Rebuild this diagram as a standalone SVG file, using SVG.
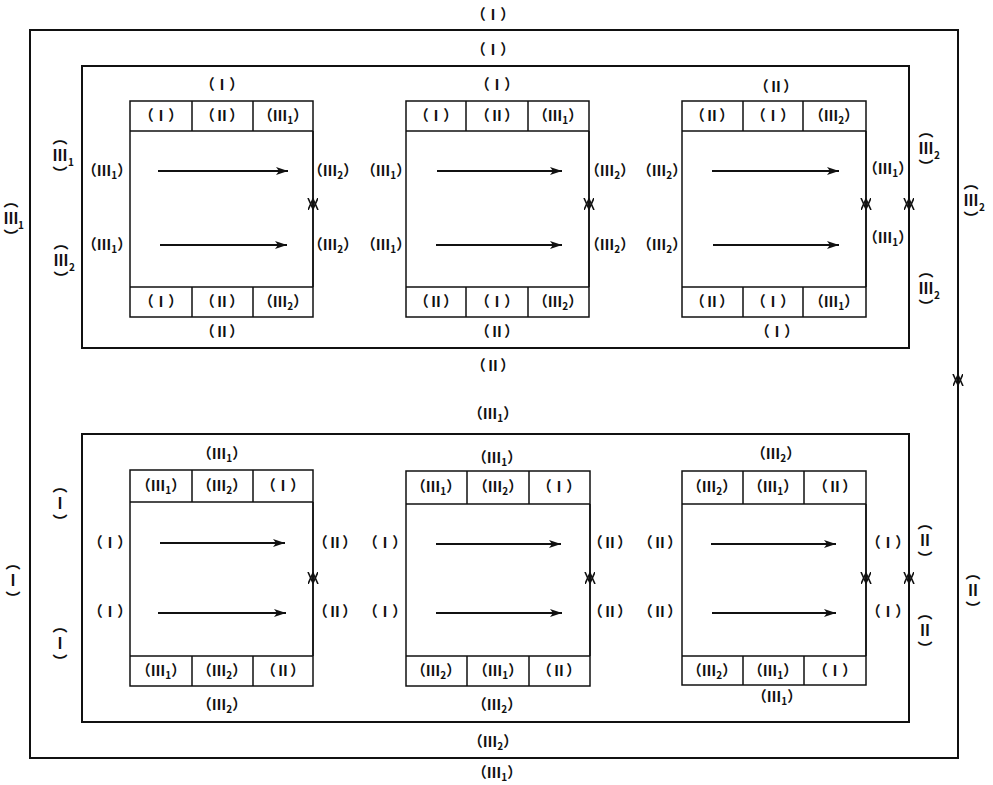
<svg xmlns="http://www.w3.org/2000/svg" width="993" height="785" viewBox="0 0 993 785">
<style>
.f{fill:none;stroke:#111;stroke-width:2}
.b{fill:none;stroke:#111;stroke-width:1.5}
.t{font-family:"Noto Sans CJK SC","Noto Sans CJK JP",sans-serif;font-size:14.5px;font-weight:bold;fill:#111;text-anchor:middle}
.sb{font-size:10px}
.vt{font-family:"Noto Sans CJK SC","Noto Sans CJK JP",sans-serif;font-size:15px;font-weight:bold;fill:#111;text-anchor:middle;writing-mode:vertical-rl;letter-spacing:3px}
.vs{font-family:"Noto Sans CJK SC","Noto Sans CJK JP",sans-serif;font-size:10px;font-weight:bold;fill:#111}
.ar{fill:none;stroke:#111;stroke-width:1.8}
.cv{fill:none;stroke:#111;stroke-width:1.5}
</style>
<defs>
<marker id="ah" markerUnits="userSpaceOnUse" markerWidth="13" markerHeight="9" refX="12" refY="4" orient="auto">
<path d="M0,0 L12,4 L0,8 L3,4 z" fill="#111"/>
</marker>
<marker id="v" markerUnits="userSpaceOnUse" markerWidth="12" markerHeight="12" refX="11" refY="5" orient="auto">
<path d="M0,0 L11,5 L0,10" fill="none" stroke="#111" stroke-width="1.6"/>
</marker>
</defs>

<g id="outer">
<rect class="f" x="30" y="30" width="928" height="728"/>
<text class="t" x="493" y="20">（Ⅰ）</text>
<text class="t" x="497" y="778">（Ⅲ<tspan class="sb" dy="3">1</tspan><tspan dy="-3">）</tspan></text>
<g id="lbl-outer-left">
<text class="vt" x="11" y="220">（Ⅲ）</text>
<text class="vs" x="18" y="229">1</text>
<text class="vt" x="13" y="582">（Ⅰ）</text>
</g>
<g id="lbl-outer-right">
<text class="vt" x="971" y="202">（Ⅲ）</text>
<text class="vs" x="979" y="211">2</text>
<text class="vt" x="973" y="592">（Ⅱ）</text>
</g>
</g>

<g id="upper-frame">
<rect class="f" x="82" y="66" width="827" height="282"/>
<text class="t" x="493" y="55">（Ⅰ）</text>
<text class="t" x="493" y="371">（Ⅱ）</text>
<text class="vt" x="60" y="157">（Ⅲ）</text>
<text class="vs" x="68" y="166">1</text>
<text class="vt" x="61" y="262">（Ⅲ）</text>
<text class="vs" x="69" y="271">2</text>
<text class="vt" x="926" y="150">（Ⅲ）</text>
<text class="vs" x="934" y="159">2</text>
<text class="vt" x="926" y="290">（Ⅲ）</text>
<text class="vs" x="934" y="299">2</text>
</g>

<g id="lower-frame">
<rect class="f" x="82" y="434" width="827" height="288"/>
<text class="t" x="493" y="419">（Ⅲ<tspan class="sb" dy="3">1</tspan><tspan dy="-3">）</tspan></text>
<text class="t" x="493" y="747">（Ⅲ<tspan class="sb" dy="3">2</tspan><tspan dy="-3">）</tspan></text>
<text class="vt" x="60" y="505">（Ⅰ）</text>
<text class="vt" x="60" y="645">（Ⅰ）</text>
<text class="vt" x="925" y="542">（Ⅱ）</text>
<text class="vt" x="925" y="632">（Ⅱ）</text>
</g>

<g id="box-tl">
<rect class="b" x="130" y="101" width="183" height="216"/>
<path class="b" d="M130,131 H313 M130,287 H313 M192,101 V131 M253,101 V131 M192,287 V317 M253,287 V317"/>
<text class="t" x="161" y="121">（Ⅰ）</text>
<text class="t" x="222" y="121">（Ⅱ）</text>
<text class="t" x="283" y="121">（Ⅲ<tspan class="sb" dy="3">1</tspan><tspan dy="-3">）</tspan></text>
<text class="t" x="161" y="307">（Ⅰ）</text>
<text class="t" x="222" y="307">（Ⅱ）</text>
<text class="t" x="283" y="307">（Ⅲ<tspan class="sb" dy="3">2</tspan><tspan dy="-3">）</tspan></text>
<text class="t" x="222" y="90">（Ⅰ）</text>
<text class="t" x="222" y="337">（Ⅱ）</text>
<text class="t" x="107" y="176">（Ⅲ<tspan class="sb" dy="3">1</tspan><tspan dy="-3">）</tspan></text>
<text class="t" x="107" y="250">（Ⅲ<tspan class="sb" dy="3">1</tspan><tspan dy="-3">）</tspan></text>
<text class="t" x="333" y="176">（Ⅲ<tspan class="sb" dy="3">2</tspan><tspan dy="-3">）</tspan></text>
<text class="t" x="333" y="250">（Ⅲ<tspan class="sb" dy="3">2</tspan><tspan dy="-3">）</tspan></text>
</g>

<g id="box-tm">
<rect class="b" x="406" y="101" width="183" height="216"/>
<path class="b" d="M406,131 H589 M406,287 H589 M466,101 V131 M528,101 V131 M466,287 V317 M528,287 V317"/>
<text class="t" x="436" y="121">（Ⅰ）</text>
<text class="t" x="497" y="121">（Ⅱ）</text>
<text class="t" x="558" y="121">（Ⅲ<tspan class="sb" dy="3">1</tspan><tspan dy="-3">）</tspan></text>
<text class="t" x="436" y="307">（Ⅱ）</text>
<text class="t" x="497" y="307">（Ⅰ）</text>
<text class="t" x="558" y="307">（Ⅲ<tspan class="sb" dy="3">2</tspan><tspan dy="-3">）</tspan></text>
<text class="t" x="497" y="90">（Ⅰ）</text>
<text class="t" x="497" y="337">（Ⅱ）</text>
<text class="t" x="386" y="176">（Ⅲ<tspan class="sb" dy="3">1</tspan><tspan dy="-3">）</tspan></text>
<text class="t" x="386" y="250">（Ⅲ<tspan class="sb" dy="3">1</tspan><tspan dy="-3">）</tspan></text>
<text class="t" x="610" y="176">（Ⅲ<tspan class="sb" dy="3">2</tspan><tspan dy="-3">）</tspan></text>
<text class="t" x="610" y="250">（Ⅲ<tspan class="sb" dy="3">2</tspan><tspan dy="-3">）</tspan></text>
</g>

<g id="box-tr">
<rect class="b" x="682" y="101" width="184" height="216"/>
<path class="b" d="M682,131 H866 M682,287 H866 M743,101 V131 M803,101 V131 M743,287 V317 M803,287 V317"/>
<text class="t" x="712" y="121">（Ⅱ）</text>
<text class="t" x="773" y="121">（Ⅰ）</text>
<text class="t" x="834" y="121">（Ⅲ<tspan class="sb" dy="3">2</tspan><tspan dy="-3">）</tspan></text>
<text class="t" x="712" y="307">（Ⅱ）</text>
<text class="t" x="773" y="307">（Ⅰ）</text>
<text class="t" x="834" y="307">（Ⅲ<tspan class="sb" dy="3">1</tspan><tspan dy="-3">）</tspan></text>
<text class="t" x="776" y="92">（Ⅱ）</text>
<text class="t" x="777" y="337">（Ⅰ）</text>
<text class="t" x="662" y="176">（Ⅲ<tspan class="sb" dy="3">2</tspan><tspan dy="-3">）</tspan></text>
<text class="t" x="662" y="250">（Ⅲ<tspan class="sb" dy="3">2</tspan><tspan dy="-3">）</tspan></text>
<text class="t" x="888" y="174">（Ⅲ<tspan class="sb" dy="3">1</tspan><tspan dy="-3">）</tspan></text>
<text class="t" x="888" y="243">（Ⅲ<tspan class="sb" dy="3">1</tspan><tspan dy="-3">）</tspan></text>
</g>

<g id="box-bl">
<rect class="b" x="130" y="470" width="183" height="216"/>
<path class="b" d="M130,502 H313 M130,656 H313 M192,470 V502 M253,470 V502 M192,656 V686 M253,656 V686"/>
<text class="t" x="161" y="491">（Ⅲ<tspan class="sb" dy="3">1</tspan><tspan dy="-3">）</tspan></text>
<text class="t" x="222" y="491">（Ⅲ<tspan class="sb" dy="3">2</tspan><tspan dy="-3">）</tspan></text>
<text class="t" x="283" y="491">（Ⅰ）</text>
<text class="t" x="161" y="676">（Ⅲ<tspan class="sb" dy="3">1</tspan><tspan dy="-3">）</tspan></text>
<text class="t" x="222" y="676">（Ⅲ<tspan class="sb" dy="3">2</tspan><tspan dy="-3">）</tspan></text>
<text class="t" x="283" y="676">（Ⅱ）</text>
<text class="t" x="222" y="459">（Ⅲ<tspan class="sb" dy="3">1</tspan><tspan dy="-3">）</tspan></text>
<text class="t" x="222" y="710">（Ⅲ<tspan class="sb" dy="3">2</tspan><tspan dy="-3">）</tspan></text>
<text class="t" x="110" y="548">（Ⅰ）</text>
<text class="t" x="110" y="617">（Ⅰ）</text>
<text class="t" x="335" y="548">（Ⅱ）</text>
<text class="t" x="335" y="617">（Ⅱ）</text>
</g>

<g id="box-bm">
<rect class="b" x="406" y="471" width="184" height="215"/>
<path class="b" d="M406,504 H590 M406,656 H590 M467,471 V504 M529,471 V504 M467,656 V686 M529,656 V686"/>
<text class="t" x="436" y="492">（Ⅲ<tspan class="sb" dy="3">1</tspan><tspan dy="-3">）</tspan></text>
<text class="t" x="498" y="492">（Ⅲ<tspan class="sb" dy="3">2</tspan><tspan dy="-3">）</tspan></text>
<text class="t" x="559" y="492">（Ⅰ）</text>
<text class="t" x="436" y="676">（Ⅲ<tspan class="sb" dy="3">2</tspan><tspan dy="-3">）</tspan></text>
<text class="t" x="498" y="676">（Ⅲ<tspan class="sb" dy="3">1</tspan><tspan dy="-3">）</tspan></text>
<text class="t" x="559" y="676">（Ⅱ）</text>
<text class="t" x="497" y="463">（Ⅲ<tspan class="sb" dy="3">1</tspan><tspan dy="-3">）</tspan></text>
<text class="t" x="497" y="710">（Ⅲ<tspan class="sb" dy="3">2</tspan><tspan dy="-3">）</tspan></text>
<text class="t" x="385" y="548">（Ⅰ）</text>
<text class="t" x="385" y="617">（Ⅰ）</text>
<text class="t" x="610" y="548">（Ⅱ）</text>
<text class="t" x="610" y="617">（Ⅱ）</text>
</g>

<g id="box-br">
<rect class="b" x="682" y="471" width="184" height="214"/>
<path class="b" d="M682,504 H866 M682,656 H866 M743,471 V504 M804,471 V504 M743,656 V685 M804,656 V685"/>
<text class="t" x="712" y="492">（Ⅲ<tspan class="sb" dy="3">2</tspan><tspan dy="-3">）</tspan></text>
<text class="t" x="773" y="492">（Ⅲ<tspan class="sb" dy="3">1</tspan><tspan dy="-3">）</tspan></text>
<text class="t" x="835" y="492">（Ⅱ）</text>
<text class="t" x="712" y="676">（Ⅲ<tspan class="sb" dy="3">2</tspan><tspan dy="-3">）</tspan></text>
<text class="t" x="773" y="676">（Ⅲ<tspan class="sb" dy="3">1</tspan><tspan dy="-3">）</tspan></text>
<text class="t" x="835" y="676">（Ⅰ）</text>
<text class="t" x="776" y="459">（Ⅲ<tspan class="sb" dy="3">2</tspan><tspan dy="-3">）</tspan></text>
<text class="t" x="777" y="702">（Ⅲ<tspan class="sb" dy="3">1</tspan><tspan dy="-3">）</tspan></text>
<text class="t" x="660" y="548">（Ⅱ）</text>
<text class="t" x="660" y="617">（Ⅱ）</text>
<text class="t" x="888" y="548">（Ⅰ）</text>
<text class="t" x="888" y="617">（Ⅰ）</text>
</g>

<g id="connectors">
<path class="ar" marker-end="url(#ah)" d="M158,171 H288"/>
<path class="ar" marker-end="url(#ah)" d="M160,245 H287"/>
<path class="ar" marker-end="url(#ah)" d="M437,171 H562"/>
<path class="ar" marker-end="url(#ah)" d="M436,245 H562"/>
<path class="ar" marker-end="url(#ah)" d="M712,171 H839"/>
<path class="ar" marker-end="url(#ah)" d="M713,245 H839"/>
<path class="ar" marker-end="url(#ah)" d="M160,543 H285"/>
<path class="ar" marker-end="url(#ah)" d="M158,613 H286"/>
<path class="ar" marker-end="url(#ah)" d="M436,544 H561"/>
<path class="ar" marker-end="url(#ah)" d="M436,613 H562"/>
<path class="ar" marker-end="url(#ah)" d="M711,544 H836"/>
<path class="ar" marker-end="url(#ah)" d="M712,613 H836"/>

<path class="cv" marker-end="url(#v)" d="M313,131 V209"/>
<path class="cv" marker-end="url(#v)" d="M313,287 V199"/>
<path class="cv" marker-end="url(#v)" d="M589,131 V209"/>
<path class="cv" marker-end="url(#v)" d="M589,287 V199"/>
<path class="cv" marker-end="url(#v)" d="M866,131 V209"/>
<path class="cv" marker-end="url(#v)" d="M866,287 V199"/>
<path class="cv" marker-end="url(#v)" d="M909,66 V209"/>
<path class="cv" marker-end="url(#v)" d="M909,348 V199"/>
<path class="cv" marker-end="url(#v)" d="M958,30 V385"/>
<path class="cv" marker-end="url(#v)" d="M958,758 V375"/>
<path class="cv" marker-end="url(#v)" d="M313,502 V583"/>
<path class="cv" marker-end="url(#v)" d="M313,656 V573"/>
<path class="cv" marker-end="url(#v)" d="M590,504 V583"/>
<path class="cv" marker-end="url(#v)" d="M590,656 V573"/>
<path class="cv" marker-end="url(#v)" d="M866,504 V583"/>
<path class="cv" marker-end="url(#v)" d="M866,656 V573"/>
<path class="cv" marker-end="url(#v)" d="M909,434 V583"/>
<path class="cv" marker-end="url(#v)" d="M909,722 V573"/>
</g>
</svg>
